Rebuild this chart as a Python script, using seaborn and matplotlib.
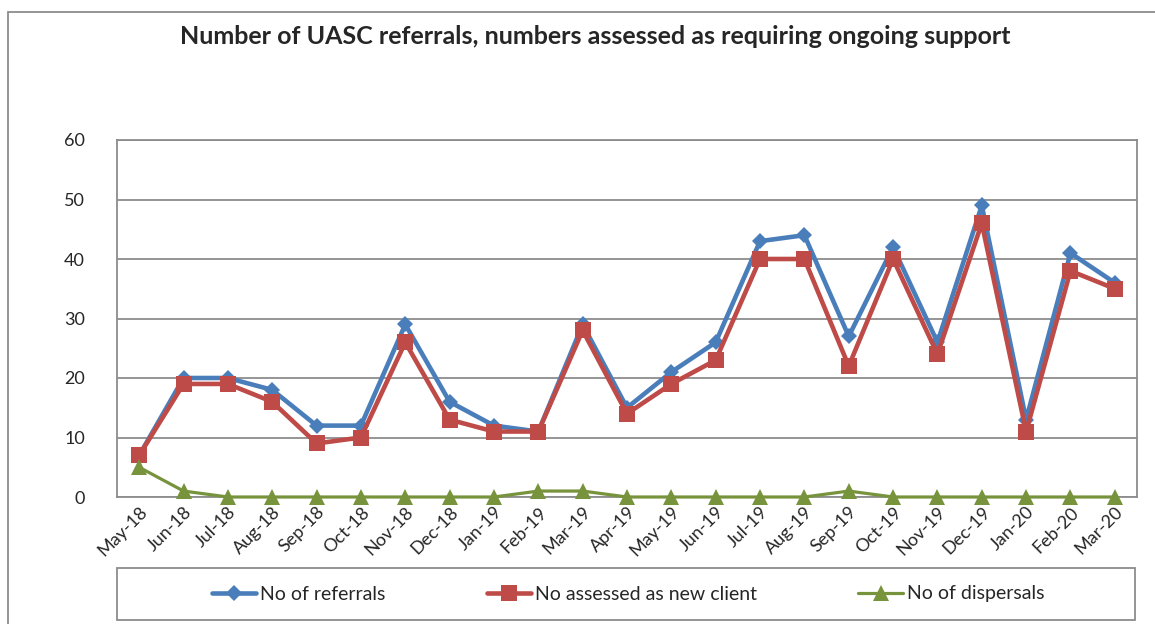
import matplotlib
matplotlib.use("Agg")
import matplotlib.pyplot as plt
import seaborn as sns
import pandas as pd
import numpy as np

months = ["May-18", "Jun-18", "Jul-18", "Aug-18", "Sep-18", "Oct-18", "Nov-18", "Dec-18",
          "Jan-19", "Feb-19", "Mar-19", "Apr-19", "May-19", "Jun-19", "Jul-19", "Aug-19",
          "Sep-19", "Oct-19", "Nov-19", "Dec-19", "Jan-20", "Feb-20", "Mar-20"]
referrals = [7, 20, 20, 18, 12, 12, 29, 16, 12, 11, 29, 15, 21, 26, 43, 44, 27, 42, 26, 49, 13, 41, 36]
new_client = [7, 19, 19, 16, 9, 10, 26, 13, 11, 11, 28, 14, 19, 23, 40, 40, 22, 40, 24, 46, 11, 38, 35]
dispersals = [5, 1, 0, 0, 0, 0, 0, 0, 0, 1, 1, 0, 0, 0, 0, 0, 1, 0, 0, 0, 0, 0, 0]

series_names = ["No of referrals", "No assessed as new client", "No of dispersals"]
series_vals = [referrals, new_client, dispersals]

sns.set_theme(style="white")
plt.rcParams['font.family'] = ['Lato', 'DejaVu Sans']

fig = plt.figure(figsize=(11.55, 6.24), dpi=100)
ax = fig.add_axes([117/1155, 1-497/624, (1137-117)/1155, (497-140)/624])

styles = [
    dict(color="#4A7EBB", marker="D", markersize=8.5, linewidth=3.3),
    dict(color="#BE4B48", marker="s", markersize=11, linewidth=3.3),
    dict(color="#77933C", marker="^", markersize=11, linewidth=2.3),
]
idx = np.arange(len(months))
for name, vals, st in zip(series_names, series_vals, styles):
    df = pd.DataFrame({"idx": idx, "value": vals})
    sns.lineplot(data=df, x="idx", y="value", ax=ax, label=name,
                 color=st["color"], marker=st["marker"], markersize=st["markersize"],
                 linewidth=st["linewidth"], markeredgewidth=0, markeredgecolor=st["color"],
                 zorder=3, clip_on=False)

ax.set_xlim(-0.5, len(months) - 0.5)
ax.set_ylim(0, 60)
ax.set_yticks(range(0, 61, 10))
ax.set_xticks(idx)
ax.set_xticklabels(months, rotation=45, ha="right", rotation_mode="anchor", fontsize=13)
ax.tick_params(axis="y", labelsize=13, pad=23, length=0)
ax.tick_params(axis="x", length=0, pad=5)
ax.grid(axis="y", color="#8c8c8c", linewidth=1.3)
ax.set_axisbelow(True)
for s in ax.spines.values():
    s.set_color("#8c8c8c")
    s.set_linewidth(1.3)
ax.set_xlabel("")
ax.set_ylabel("")
ax.get_legend().remove()

# legend box
lbox = plt.Rectangle((117/1155, 1-620/624), (1135-117)/1155, (620-568)/624,
                     transform=fig.transFigure, fill=False, edgecolor="#8c8c8c", linewidth=1.3)
fig.patches.append(lbox)

handles, labels = ax.get_legend_handles_labels()
leg = fig.legend(handles, labels, loc="center", ncol=3,
                 bbox_to_anchor=(628/1155, 1-594/624),
                 frameon=False, fontsize=14, columnspacing=5.2, handlelength=2.3,
                 handletextpad=0.2, borderpad=0.0)

fig.text(595/1155, 1-36/624, "Number of UASC referrals, numbers assessed as requiring ongoing support",
         ha="center", va="center", fontsize=18, fontweight="bold")

# outer chart border
border = plt.Rectangle((8/1155, -0.01), 1.1, 1-12/624 + 0.01, transform=fig.transFigure,
                       fill=False, edgecolor="#8c8c8c", linewidth=1.3)
fig.patches.append(border)

fig.savefig("out.png", dpi=100)
